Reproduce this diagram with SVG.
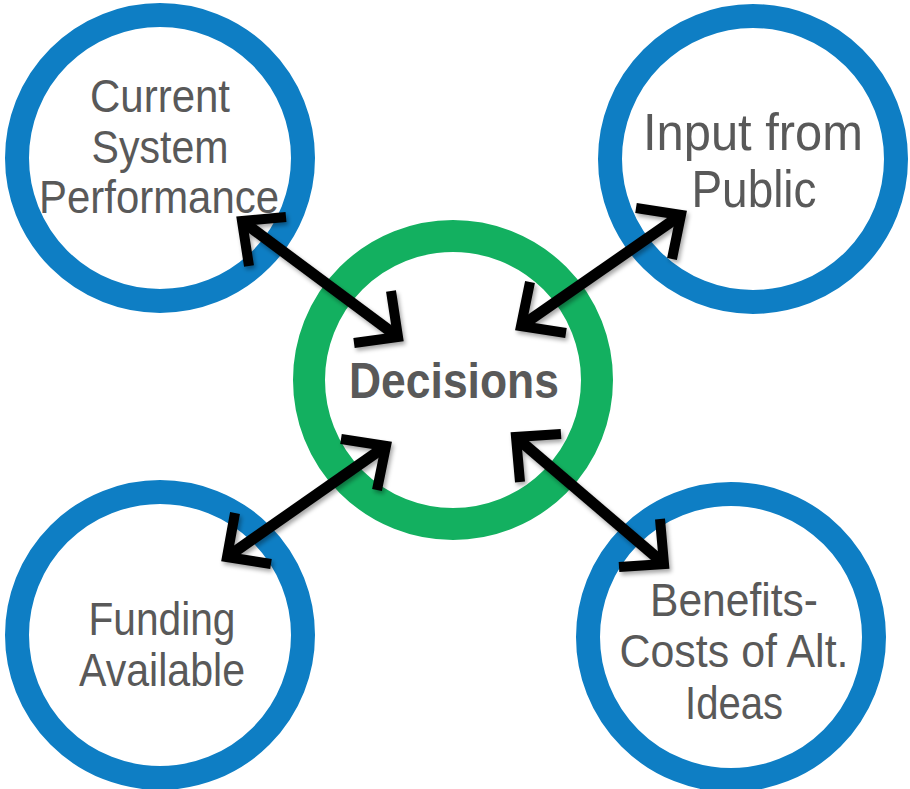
<svg xmlns="http://www.w3.org/2000/svg" width="910" height="789" viewBox="0 0 910 789">
<style>
.ring{fill:none;stroke:#0E7EC4;stroke-width:24}
.center{fill:none;stroke:#13B060;stroke-width:32}
.lbl{font-family:"Liberation Sans",Arial,sans-serif;font-size:47px;fill:#595959;text-anchor:middle}
.big{font-size:52px}
.bold{font-weight:bold;font-size:50px}
.shaft{stroke:#000;stroke-width:11;fill:none}
.head{stroke:#000;stroke-width:10;fill:none;stroke-linejoin:miter;stroke-miterlimit:10}
</style>
<defs>
<filter id="sh" x="-20%" y="-20%" width="140%" height="140%">
<feDropShadow dx="2" dy="3" stdDeviation="2" flood-color="#000" flood-opacity="0.35"/>
</filter>
</defs>
<rect width="910" height="789" fill="#fff"/>
<g id="node-current">
<circle class="ring" cx="160" cy="158" r="143"/>
<text class="lbl" x="160" y="112" textLength="140" lengthAdjust="spacingAndGlyphs">Current</text>
<text class="lbl" x="160" y="163" textLength="137" lengthAdjust="spacingAndGlyphs">System</text>
<text class="lbl" x="159" y="213" textLength="240" lengthAdjust="spacingAndGlyphs">Performance</text>
</g>
<g id="node-input">
<circle class="ring" cx="753" cy="159" r="143"/>
<text class="lbl big" x="753" y="150" textLength="220" lengthAdjust="spacingAndGlyphs">Input from</text>
<text class="lbl big" x="754" y="207" textLength="125" lengthAdjust="spacingAndGlyphs">Public</text>
</g>
<g id="node-funding">
<circle class="ring" cx="160" cy="635" r="143"/>
<text class="lbl" x="162" y="635" textLength="147" lengthAdjust="spacingAndGlyphs">Funding</text>
<text class="lbl" x="162" y="686" textLength="166" lengthAdjust="spacingAndGlyphs">Available</text>
</g>
<g id="node-benefits">
<circle class="ring" cx="731" cy="637" r="143"/>
<text class="lbl" x="734" y="616" textLength="168" lengthAdjust="spacingAndGlyphs">Benefits-</text>
<text class="lbl" x="734" y="667" textLength="229" lengthAdjust="spacingAndGlyphs">Costs of Alt.</text>
<text class="lbl" x="734" y="719" textLength="98" lengthAdjust="spacingAndGlyphs">Ideas</text>
</g>
<g id="node-decisions">
<circle class="center" cx="453" cy="380" r="144"/>
<text class="lbl bold" x="454" y="398" textLength="210" lengthAdjust="spacingAndGlyphs">Decisions</text>
</g>
<g id="connectors" filter="url(#sh)">
<g id="arrow-tl">
<line class="shaft" x1="246" y1="224" x2="394" y2="334"/>
<polyline class="head" points="286,217 242,221 249,266"/>
<polyline class="head" points="391,291 398,337 354,343"/>
</g>
<g id="arrow-tr">
<line class="shaft" x1="678" y1="217" x2="524" y2="324"/>
<polyline class="head" points="636,208 681,215 672,259"/>
<polyline class="head" points="530,282 521,326 566,333"/>
</g>
<g id="arrow-bl">
<line class="shaft" x1="230" y1="555" x2="383" y2="448"/>
<polyline class="head" points="235,513 227,557 271,564"/>
<polyline class="head" points="341,439 386,446 377,490"/>
</g>
<g id="arrow-br">
<line class="shaft" x1="518" y1="439" x2="662" y2="562"/>
<polyline class="head" points="561,434 516,437 520,482"/>
<polyline class="head" points="660,519 664,564 619,567"/>
</g>
</g>
</svg>
